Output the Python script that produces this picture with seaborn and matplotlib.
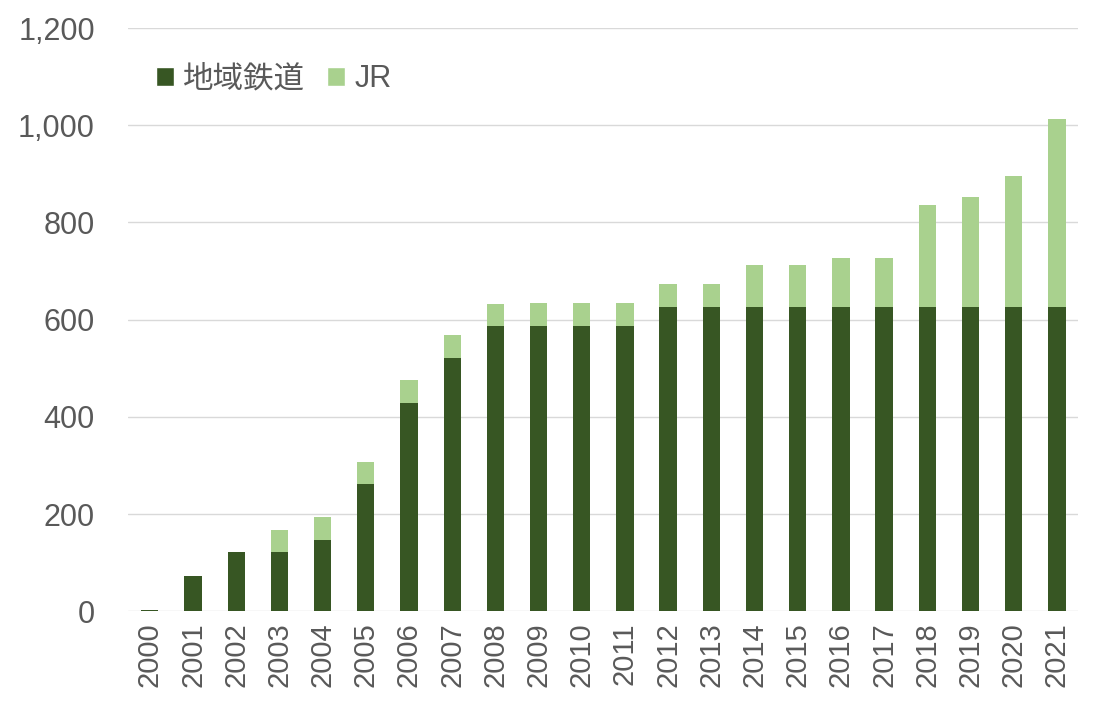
import matplotlib
matplotlib.use("Agg")
import matplotlib.pyplot as plt
import seaborn as sns
import pandas as pd
import numpy as np
from matplotlib.patches import Patch

years = [str(y) for y in range(2000, 2022)]
local_rail = [3, 72, 122, 122, 146, 262, 429, 522, 586, 588, 588, 588,
              626, 626, 626, 626, 626, 626, 626, 626, 626, 626]
jr = [0, 0, 0, 46, 47, 46, 47, 46, 46, 46, 46, 46,
      47, 47, 86, 86, 101, 101, 210, 226, 270, 386]
series_names = ["地域鉄道", "JR"]
ytick_values = [0, 200, 400, 600, 800, 1000, 1200]

dark = "#375623"
light = "#A9D18E"
text_color = "#595959"

sns.set_theme(style="white")
plt.rcParams['font.family'] = ['Liberation Sans', 'Noto Sans CJK JP', 'DejaVu Sans']

df = pd.DataFrame({"year": years, "local": local_rail, "jr": jr})
df["total"] = df["local"] + df["jr"]

fig = plt.figure(figsize=(10.96, 7.2), dpi=100)
ax = fig.add_axes([0.117, 0.151, 0.867, 0.810])

sns.barplot(data=df, x="year", y="total", color=light, saturation=1, width=0.4,
            linewidth=0, ax=ax, zorder=3)
sns.barplot(data=df, x="year", y="local", color=dark, saturation=1, width=0.4,
            linewidth=0, ax=ax, zorder=4)

ax.set_ylim(0, 1200)
ax.set_yticks(ytick_values)
ax.set_yticklabels([f"{v:,}" for v in ytick_values], fontsize=22, color=text_color)
ax.set_xlim(-0.5, len(years) - 0.5)
ax.set_xticks(range(len(years)))
ax.set_xticklabels(years, rotation=90, fontsize=21, color=text_color)
ax.set_xlabel("")
ax.set_ylabel("")
ax.tick_params(axis="y", length=0, pad=24)
ax.tick_params(axis="x", length=0, pad=8)
ax.grid(axis="y", color="#D9D9D9", linewidth=1, zorder=0)
ax.set_axisbelow(True)
for s in ["top", "right", "left", "bottom"]:
    ax.spines[s].set_visible(False)

handles = [Patch(facecolor=dark), Patch(facecolor=light)]
leg = ax.legend(handles, series_names, loc="upper left", bbox_to_anchor=(0.0, 0.985),
                ncol=2, frameon=False, fontsize=22, handlelength=0.6, handleheight=0.6,
                handletextpad=0.3, columnspacing=0.7)
for t in leg.get_texts():
    t.set_color(text_color)

fig.savefig("out.png", dpi=100)
